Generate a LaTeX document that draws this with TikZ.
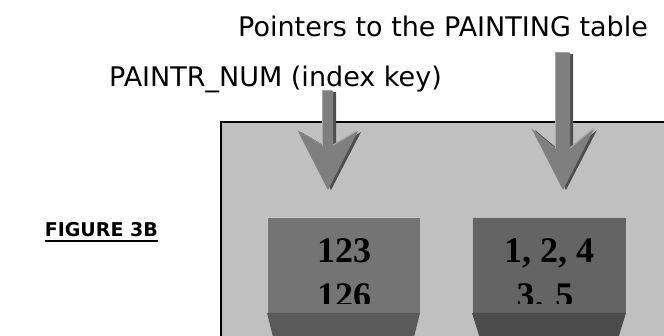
\documentclass[tikz,border=0pt]{standalone}
\usepackage{fontspec}
\setmainfont{DejaVu Sans}
\newfontfamily\numfont{Liberation Serif}
\definecolor{panelgray}{HTML}{C0C0C0}
\definecolor{arrowgray}{HTML}{7F7F7F}
\definecolor{arrowshade}{HTML}{4E4E4E}
\definecolor{arrowlight}{HTML}{A8A8A8}
\definecolor{faceA}{HTML}{747474}
\definecolor{baseA}{HTML}{5A5A5A}
\definecolor{faceB}{HTML}{646464}
\definecolor{baseB}{HTML}{4C4C4C}
\tikzset{
  label/.style={font=\fontsize{27}{30}\selectfont, inner sep=0pt, anchor=base west},
  figlabel/.style={font=\fontsize{19}{22}\selectfont\bfseries, inner sep=0pt, anchor=base east},
  numbers/.style={font=\numfont\fontsize{36}{44}\selectfont\bfseries, inner sep=0pt, anchor=base},
  panel/.style={fill=panelgray, draw=black, line width=1.6pt},
}
% block arrow: centre x, shaft top, barb y, notch y, tip y, half shaft, half head
\newcommand{\blockarrow}[7]{%
  (#1-#6,#2) -- (#1+#6,#2) -- (#1+#6,#4) -- (#1+#7,#3) -- (#1,#5)
  -- (#1-#7,#3) -- (#1-#6,#4) -- cycle}
\begin{document}
\begin{tikzpicture}[x=1pt,y=-1pt]
\useasboundingbox (0,0) rectangle (664,336);
\clip (0,0) rectangle (664,336);

% index panel
\draw[panel] (221,122) rectangle (680,350);

% index entries: front faces and bases
\fill[faceA] (267,217) rectangle (420,313);
\fill[baseA] (267,313) -- (420,313) -- (412,345) -- (275,345) -- cycle;
\fill[faceB] (472,217) rectangle (626,313);
\fill[baseB] (472,313) -- (626,313) -- (616,345) -- (482,345) -- cycle;
\draw[white!60!faceA, line width=1pt] (267.5,313) |- (420,217.5);
\draw[white!55!faceB, line width=1pt] (472.5,313) |- (626,217.5);

\begin{scope}
  \clip (260,210) rectangle (630,304);
  \node[numbers] (k1) at (344,263) {123};
  \node[numbers] (k2) at (344,308) {126};
  \node[numbers] (p1) at (549,263) {1, 2, 4};
  \node[numbers] (p2) at (545,308) {3. 5};
\end{scope}

% pointer arrows
\fill[arrowshade] \blockarrow{331}{92}{132}{147}{190}{5}{30};
\fill[arrowlight] \blockarrow{327}{90}{130}{145}{188}{5}{30};
\fill[arrowgray]  \blockarrow{328}{91}{131}{146}{190}{5}{30};

\fill[arrowshade] \blockarrow{566}{54}{130}{150}{190}{7}{31};
\fill[arrowlight] \blockarrow{562}{52}{128}{148}{188}{7}{31};
\fill[arrowgray]  \blockarrow{563}{53}{129}{149}{190}{7}{31};

% captions
\node[label] (ptr) at (238,37) {Pointers to the PAINTING table};
\node[label] (key) at (109,87) {PAINTR\_NUM (index key)};
\node[figlabel] (fig) at (158,237) {FIGURE 3B};
\draw[line width=2pt] ([yshift=-4pt]fig.base west) -- ([yshift=-4pt]fig.base east);
\end{tikzpicture}
\end{document}
